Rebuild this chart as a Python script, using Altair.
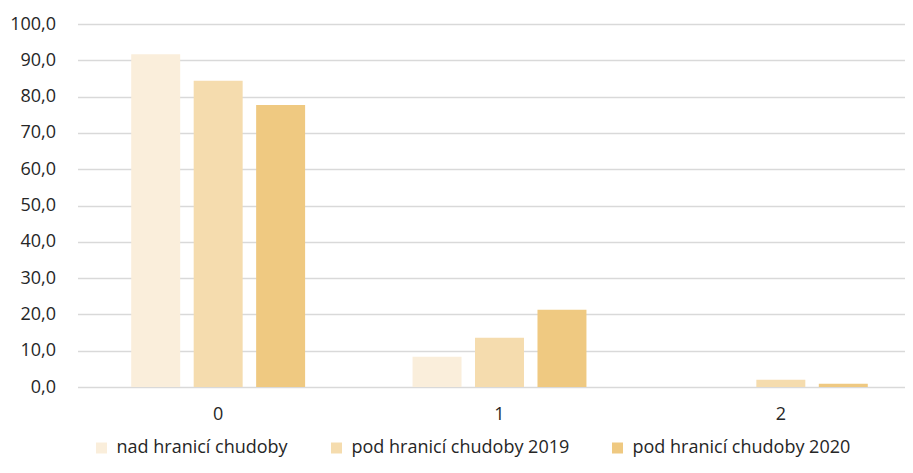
import altair as alt
import pandas as pd

categories = ["0", "1", "2"]
series = ["nad hranicí chudoby", "pod hranicí chudoby 2019", "pod hranicí chudoby 2020"]
nad = [91.7, 8.3, 0.0]
pod2019 = [84.4, 13.6, 2.0]
pod2020 = [77.7, 21.3, 0.9]
colors = ["#FAEEDB", "#F5DCAE", "#EFC981"]

rows = []
for s, vals in zip(series, [nad, pod2019, pod2020]):
    for c, v in zip(categories, vals):
        rows.append({"kat": c, "serie": s, "hodnota": v})
df = pd.DataFrame(rows)

FONT = "Open Sans"

chart = alt.Chart(df).mark_bar().encode(
    x=alt.X("kat:N", sort=categories, title=None,
            scale=alt.Scale(paddingInner=0, paddingOuter=0, range=[0, 844]),
            axis=alt.Axis(labelAngle=0, domain=False, ticks=False, labelPadding=18,
                          labelFontSize=18, labelFont=FONT, labelColor="#262626")),
    xOffset=alt.XOffset("serie:N", sort=series,
                        scale=alt.Scale(paddingInner=0.216, paddingOuter=0.86)),
    y=alt.Y("hodnota:Q", title=None,
            scale=alt.Scale(domain=[0, 100], nice=False),
            axis=alt.Axis(values=list(range(0, 101, 10)), domain=False, ticks=False,
                          labelPadding=22, labelFontSize=18, labelFont=FONT,
                          labelColor="#262626",
                          labelExpr="replace(format(datum.value, '.1f'), '.', ',')",
                          gridColor="#D9D9D9", gridWidth=1.5)),
    color=alt.Color("serie:N", sort=series,
                    scale=alt.Scale(domain=series, range=colors),
                    legend=alt.Legend(title=None, orient="none", direction="horizontal",
                                      legendX=15, legendY=415, symbolType="square",
                                      symbolSize=121, symbolStrokeWidth=0,
                                      labelFontSize=18, labelFont=FONT, labelLimit=400,
                                      labelColor="#262626", columnPadding=39,
                                      labelOffset=6, padding=0)),
).properties(
    width=827, height=363,
    autosize=alt.AutoSizeParams(type="none"),
    padding={"left": 69.5, "top": 16, "right": 0, "bottom": 74},
).configure_view(stroke=None)

chart.save("out.html", embed_options={"renderer": "svg", "actions": False})
